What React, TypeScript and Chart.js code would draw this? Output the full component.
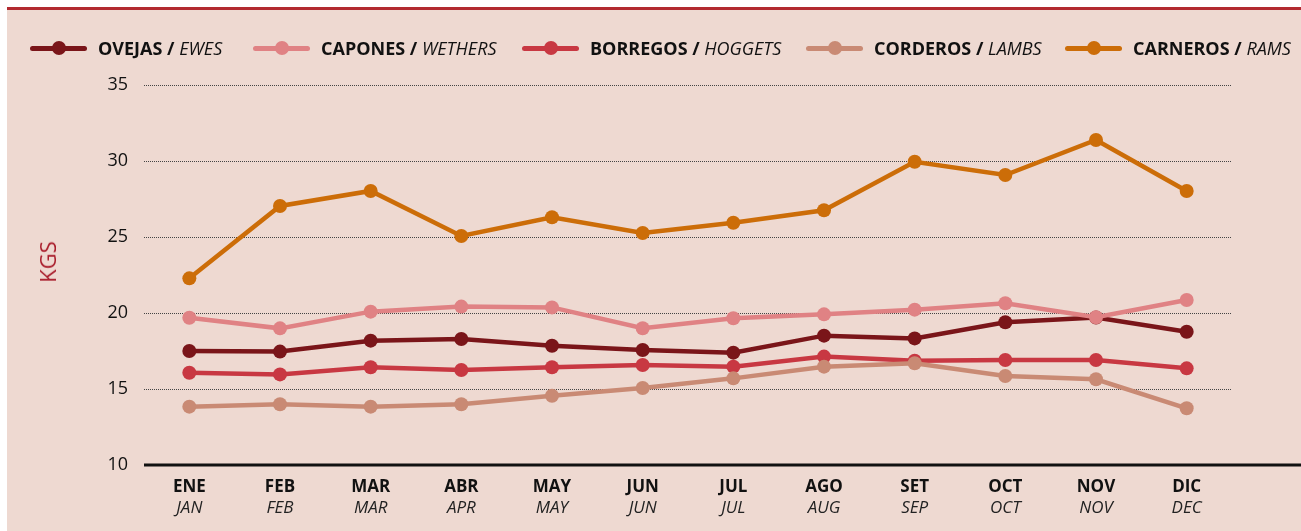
import React, { useEffect, useRef } from "react";
import { Chart, registerables } from "chart.js";

Chart.register(...registerables);

const monthsEs = ["ENE", "FEB", "MAR", "ABR", "MAY", "JUN", "JUL", "AGO", "SET", "OCT", "NOV", "DIC"];
const monthsEn = ["JAN", "FEB", "MAR", "APR", "MAY", "JUN", "JUL", "AUG", "SEP", "OCT", "NOV", "DEC"];

const namesEs = ["OVEJAS", "CAPONES", "BORREGOS", "CORDEROS", "CARNEROS"];
const namesEn = ["EWES", "WETHERS", "HOGGETS", "LAMBS", "RAMS"];
const colors = ["#7a1519", "#e08284", "#c83842", "#c98a74", "#cc6d08"];

const ovejas = [17.5, 17.46, 18.18, 18.29, 17.85, 17.57, 17.39, 18.51, 18.33, 19.39, 19.7, 18.77];
const capones = [19.69, 18.99, 20.09, 20.42, 20.37, 19.0, 19.65, 19.91, 20.22, 20.64, 19.72, 20.86];
const borregos = [16.07, 15.96, 16.43, 16.25, 16.43, 16.58, 16.47, 17.13, 16.86, 16.91, 16.91, 16.36];
const corderos = [13.84, 14.0, 13.84, 14.0, 14.56, 15.07, 15.7, 16.47, 16.69, 15.86, 15.64, 13.73];
const carneros = [22.28, 27.04, 28.03, 25.07, 26.3, 25.26, 25.94, 26.76, 29.95, 29.08, 31.38, 28.03];

const seriesValues = [ovejas, capones, borregos, corderos, carneros];

const yTicksMin = 10;
const yTicksMax = 35;
const yTickStep = 5;

const FONT = "'Open Sans', sans-serif";
const legendX = [30, 253, 522, 806, 1065];

const axisLinePlugin = {
  id: "axisLine",
  beforeDatasetsDraw(chart: any) {
    const { ctx, chartArea } = chart;
    ctx.save();
    ctx.strokeStyle = "#111";
    ctx.lineWidth = 3;
    ctx.beginPath();
    ctx.moveTo(chartArea.left, chartArea.bottom);
    ctx.lineTo(chart.width, chartArea.bottom);
    ctx.stroke();
    ctx.restore();
  },
};

export default function App() {
  const ref = useRef<HTMLCanvasElement | null>(null);

  useEffect(() => {
    if (!ref.current) return;
    const chart = new Chart(ref.current, {
      type: "line",
      data: {
        labels: monthsEs,
        datasets: seriesValues.map((vals, i) => ({
          label: namesEs[i] + " / " + namesEn[i],
          data: vals,
          borderColor: colors[i],
          backgroundColor: colors[i],
          pointBackgroundColor: colors[i],
          pointBorderColor: colors[i],
          pointBorderWidth: 0,
          pointRadius: 7,
          borderWidth: 4.5,
          tension: 0,
          fill: false,
          order: 5 - i,
        })),
      },
      options: {
        animation: false,
        responsive: false,
        devicePixelRatio: 1,
        layout: { padding: { left: 8, top: 85, right: 69, bottom: 0 } },
        plugins: {
          legend: { display: false },
          tooltip: { enabled: false },
          title: { display: false },
        },
        scales: {
          x: {
            type: "category",
            offset: true,
            position: "bottom",
            weight: 0,
            grid: { display: false, drawTicks: false },
            border: { display: false },
            ticks: {
              color: "#111",
              font: { family: FONT, size: 17, weight: "bold", lineHeight: 1.2 },
              padding: 12,
              maxRotation: 0,
              autoSkip: false,
            },
            afterFit: (s: any) => {
              s.height = 32;
            },
          },
          x2: {
            type: "category",
            labels: monthsEn,
            offset: true,
            position: "bottom",
            weight: 1,
            grid: { display: false, drawTicks: false },
            border: { display: false },
            ticks: {
              color: "#222",
              font: { family: FONT, size: 17, style: "italic", weight: "normal", lineHeight: 1.2 },
              padding: 1,
              maxRotation: 0,
              autoSkip: false,
            },
            afterFit: (s: any) => {
              s.height = 34;
            },
          },
          y: {
            min: yTicksMin,
            max: yTicksMax,
            ticks: {
              stepSize: yTickStep,
              padding: 16,
              color: "#111",
              font: { family: FONT, size: 18 },
            },
            grid: {
              drawTicks: false,
              lineWidth: 1,
              color: (c: any) => (c.tick && c.tick.value === yTicksMin ? "rgba(0,0,0,0)" : "#444"),
            },
            border: { display: false, dash: [1, 1] },
            afterFit: (s: any) => {
              s.width = 136;
            },
          },
        },
      },
      plugins: [axisLinePlugin],
    });
    return () => chart.destroy();
  }, []);

  return (
    <div
      style={{
        position: "fixed",
        left: 0,
        top: 0,
        width: 1301,
        height: 531,
        background: "#ffffff",
        overflow: "hidden",
        fontFamily: FONT,
      }}
    >
      <div style={{ position: "absolute", left: 7, top: 10, right: 0, bottom: 0, background: "#eed9d1" }} />
      <div style={{ position: "absolute", left: 7, top: 7, right: 0, height: 3, background: "#b22a30" }} />
      <canvas
        ref={ref}
        width={1301}
        height={531}
        style={{ position: "absolute", left: 0, top: 0, width: 1301, height: 531 }}
      />
      {namesEs.map((n, i) => (
        <div
          key={n}
          style={{
            position: "absolute",
            left: legendX[i],
            top: 37,
            height: 22,
            display: "flex",
            alignItems: "center",
            whiteSpace: "nowrap",
          }}
        >
          <div style={{ position: "relative", width: 57, height: 22, marginRight: 11 }}>
            <div
              style={{
                position: "absolute",
                left: 0,
                top: 8.5,
                width: 57,
                height: 5,
                borderRadius: 2.5,
                background: colors[i],
              }}
            />
            <div
              style={{
                position: "absolute",
                left: 21.5,
                top: 4,
                width: 14,
                height: 14,
                borderRadius: "50%",
                background: colors[i],
              }}
            />
          </div>
          <span style={{ fontSize: 18, color: "#111", lineHeight: "22px" }}>
            <span style={{ fontWeight: 700 }}>{n} /</span>{" "}
            <span style={{ fontStyle: "italic", fontWeight: 400 }}>{namesEn[i]}</span>
          </span>
        </div>
      ))}
      <div
        style={{
          position: "absolute",
          left: 47,
          top: 262,
          transform: "translate(-50%, -50%) rotate(-90deg)",
          color: "#a91d2b",
          fontSize: 22,
          whiteSpace: "nowrap",
          lineHeight: "24px",
        }}
      >
        KGS
      </div>
    </div>
  );
}
